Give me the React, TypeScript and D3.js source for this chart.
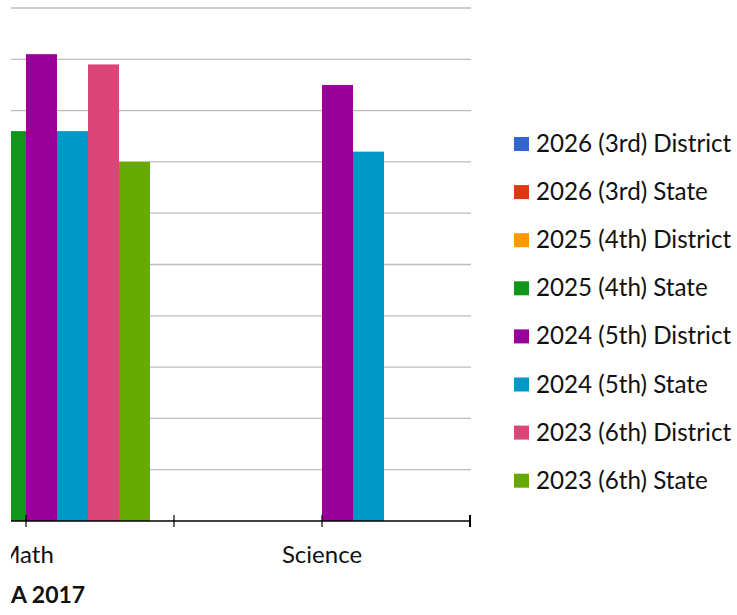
import React from "react";
import * as d3 from "d3";

const categories = ["Math", "Science"];
const seriesNames = [
  "2026 (3rd) District",
  "2026 (3rd) State",
  "2025 (4th) District",
  "2025 (4th) State",
  "2024 (5th) District",
  "2024 (5th) State",
  "2023 (6th) District",
  "2023 (6th) State",
];
const seriesColors = ["#3366CC", "#DC3912", "#FF9900", "#109618", "#990099", "#0099C6", "#DD4477", "#66AA00"];
// values per series: [Math, Science]; null = not shown
const s2026District: (number | null)[] = [null, null];
const s2026State: (number | null)[] = [null, null];
const s2025District: (number | null)[] = [null, null];
const s2025State: (number | null)[] = [76, null];
const s2024District: (number | null)[] = [91, 85];
const s2024State: (number | null)[] = [76, 72];
const s2023District: (number | null)[] = [89, null];
const s2023State: (number | null)[] = [70, null];
const seriesValues = [s2026District, s2026State, s2025District, s2025State, s2024District, s2024State, s2023District, s2023State];
const yTicks = [10, 20, 30, 40, 50, 60, 70, 80, 90, 100];
const titleText = "A 2017";

export default function App() {
  const W = 737, H = 615;
  const clipLeft = 11;
  const plotTop = 8, plotBottom = 521;
  const x0 = d3.scaleBand<string>().domain(categories).range([-122, 470]).paddingInner(0).paddingOuter(0);
  const groupW = 248;
  const x1 = d3.scaleBand<string>().domain(seriesNames).range([0, groupW]).padding(0);
  const y = d3.scaleLinear().domain([0, 100]).range([plotBottom, plotTop]);
  const font = "Lato, 'Open Sans', sans-serif";
  const tickXs: number[] = [];
  categories.forEach((c) => {
    const s = x0(c)!;
    tickXs.push(s, s + x0.bandwidth() / 2);
  });
  const axisEnd = x0.range()[1];
  tickXs.push(axisEnd);

  return (
    <div style={{ position: "absolute", left: 0, top: 0 }}>
      <svg width={W} height={H} style={{ display: "block", background: "#fff" }}>
        <defs>
          <clipPath id="leftclip">
            <rect x={clipLeft} y={0} width={W - clipLeft} height={H} />
          </clipPath>
        </defs>
        <g clipPath="url(#leftclip)">
          {yTicks.map((t) => (
            <line key={t} x1={clipLeft} x2={axisEnd + 1} y1={y(t)} y2={y(t)} stroke="#bdbdbd" strokeWidth={1.3} />
          ))}
          {categories.map((c, ci) => {
            const cx = x0(c)! + x0.bandwidth() / 2;
            return seriesNames.map((s, si) => {
              const v = seriesValues[si][ci];
              if (v == null) return null;
              const bx = cx - groupW / 2 + x1(s)!;
              return (
                <rect key={c + s} x={bx} y={y(v)} width={x1.bandwidth()} height={plotBottom - y(v)} fill={seriesColors[si]} />
              );
            });
          })}
          <line x1={clipLeft} x2={axisEnd + 1} y1={plotBottom} y2={plotBottom} stroke="#000" strokeWidth={1.5} />
          {tickXs.map((tx, i) => (
            <line key={i} x1={tx} x2={tx} y1={plotBottom - 6} y2={plotBottom + 6} stroke="#000" strokeWidth={tx === axisEnd ? 2 : 1.2} />
          ))}
          {categories.map((c) => (
            <text key={c} x={x0(c)! + x0.bandwidth() / 2} y={563} textAnchor="middle" fontFamily={font} fontSize={24} fill="#111">
              {c}
            </text>
          ))}
          <text x={clipLeft} y={603} fontFamily={font} fontSize={23} fontWeight="bold" fill="#111">
            {titleText}
          </text>
        </g>
        {seriesNames.map((s, i) => {
          const cy = 144 + i * 48.1;
          return (
            <g key={s}>
              <rect x={514} y={cy - 7} width={15} height={14} fill={seriesColors[i]} />
              <text x={536} y={cy + 8} fontFamily={font} fontSize={24.2} fill="#111">
                {s}
              </text>
            </g>
          );
        })}
      </svg>
    </div>
  );
}
